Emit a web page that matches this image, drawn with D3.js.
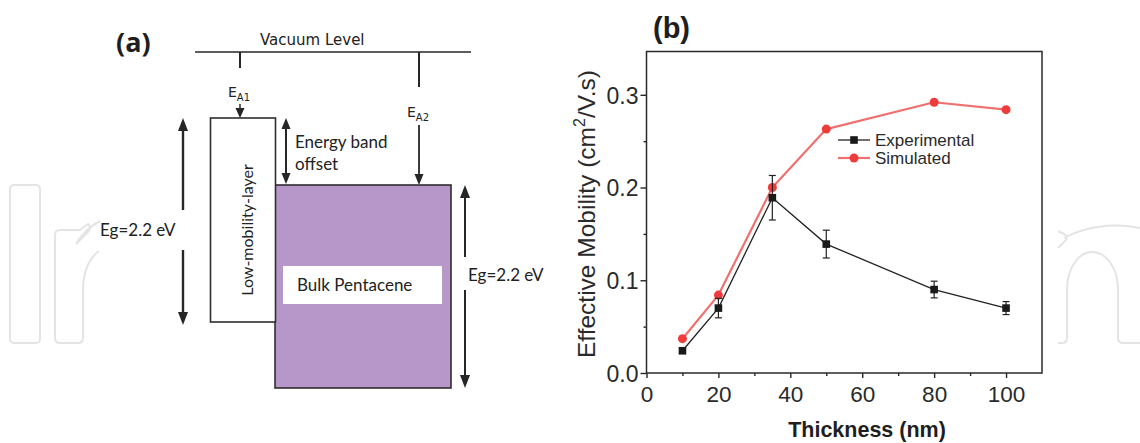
<!DOCTYPE html>
<html>
<head>
<meta charset="utf-8">
<script src="https://cdn.jsdelivr.net/npm/d3@7"></script>
<style>
  html, body { margin: 0; padding: 0; background: #fff; }
  svg { display: block; }
</style>
</head>
<body>
<svg id="chart" width="1140" height="443"></svg>
<script>
// ---------- data (panel b) ----------
const thickness = [10, 20, 35, 50, 80, 100];
const experimental = [0.024, 0.070, 0.189, 0.139, 0.090, 0.070];
const experimentalErr = [0.003, 0.0105, 0.024, 0.015, 0.009, 0.007];
const simulated = [0.037, 0.084, 0.200, 0.263, 0.292, 0.284];
const xTicks = [0, 20, 40, 60, 80, 100];
const xMinorTicks = [10, 30, 50, 70, 90];
const yTicks = [0.0, 0.1, 0.2, 0.3];
const yMinorTicks = [0.05, 0.15, 0.25];
const seriesNames = ["Experimental", "Simulated"];

const svg = d3.select("#chart");
const INK = "#262626";

// ---------- faint watermark ----------
const wm = svg.append("g").attr("fill", "none").attr("stroke", "#e4e4e4").attr("stroke-width", 2);
wm.append("rect").attr("x", 10).attr("y", 185).attr("width", 30).attr("height", 158).attr("rx", 4);
wm.append("path").attr("d", "M83,288 L83,338 Q83,343 78,343 L60,343 Q55,343 55,338 L55,235 Q55,230 60,230 L80,230 L88,224 Q92,228 88,232 L76,244 Q86,228 100,221");
wm.append("path").attr("d", "M83,288 Q84,262 99,251");
wm.append("path").attr("d", "M1058,343 L1062,343 Q1067,343 1067,338 L1067,290 C1067,266 1080,252 1092,252 C1105,252 1118,266 1118,290 L1118,338 Q1118,343 1123,343 L1140,343");
wm.append("path").attr("d", "M1058,248 L1066,240 Q1068,236 1064,234 L1058,231 M1064,238 C1082,228 1110,222 1140,228");

// ---------- panel (a): schematic ----------
const A = svg.append("g");
const sans2 = "Lato, 'Open Sans', sans-serif";

function head(g, x, y, dir, w, l) {
  g.append("path")
    .attr("d", `M${x},${y} L${x - w / 2},${y - dir * l} L${x + w / 2},${y - dir * l} Z`)
    .attr("fill", INK);
}
function vline(g, x, y1, y2, w) {
  g.append("line").attr("x1", x).attr("x2", x).attr("y1", y1).attr("y2", y2)
    .attr("stroke", INK).attr("stroke-width", w || 2);
}

A.append("text").attr("x", 116).attr("y", 52).text("(a)")
  .attr("font-family", "'Open Sans', sans-serif").attr("font-weight", 700)
  .attr("font-size", 27).attr("fill", "#1e1e1e");

// vacuum level
A.append("line").attr("x1", 195).attr("x2", 471).attr("y1", 52).attr("y2", 52)
  .attr("stroke", INK).attr("stroke-width", 1.6);
A.append("text").attr("x", 260).attr("y", 45).text("Vacuum Level")
  .attr("font-family", "'DejaVu Sans', sans-serif").attr("font-size", 15).attr("fill", "#222");

// E_A1
vline(A, 240, 52, 68, 2);
const ea1 = A.append("text").attr("x", 228).attr("y", 97)
  .attr("font-family", "'DejaVu Sans', sans-serif").attr("font-size", 14).attr("fill", "#222");
ea1.append("tspan").text("E");
ea1.append("tspan").attr("font-size", 10).attr("dy", 4).text("A1");
vline(A, 240, 104, 112, 1.5);
head(A, 240, 118, 1, 9, 10);

// E_A2
vline(A, 419, 52, 87, 2);
const ea2 = A.append("text").attr("x", 407).attr("y", 117)
  .attr("font-family", "'DejaVu Sans', sans-serif").attr("font-size", 14).attr("fill", "#222");
ea2.append("tspan").text("E");
ea2.append("tspan").attr("font-size", 10).attr("dy", 4).text("A2");
vline(A, 419, 125, 178, 1.8);
head(A, 419, 185, 1, 9, 11);

// bulk pentacene box
A.append("rect").attr("x", 275).attr("y", 185).attr("width", 176).attr("height", 203)
  .attr("fill", "#b796c9").attr("stroke", "#2e2e2e").attr("stroke-width", 1.6);
A.append("rect").attr("x", 283).attr("y", 266).attr("width", 159).attr("height", 38).attr("fill", "#fff");
A.append("text").attr("x", 297).attr("y", 291).text("Bulk Pentacene")
  .attr("font-family", sans2).attr("font-size", 17).attr("fill", "#222");

// low-mobility layer
A.append("rect").attr("x", 210.5).attr("y", 118).attr("width", 65).attr("height", 204)
  .attr("fill", "#fff").attr("stroke", "#2e2e2e").attr("stroke-width", 1.6);
A.append("text").attr("transform", "translate(253,230) rotate(-90)")
  .attr("text-anchor", "middle").text("Low-mobility-layer")
  .attr("font-family", sans2).attr("font-size", 16).attr("fill", "#222");

// left Eg arrow
vline(A, 183, 128, 210, 2.4);
vline(A, 183, 250, 314, 2.4);
head(A, 183, 118, -1, 10, 13);
head(A, 183, 325, 1, 10, 13);
A.append("text").attr("x", 100).attr("y", 236).text("Eg=2.2 eV")
  .attr("font-family", sans2).attr("font-size", 17).attr("fill", "#222");

// energy band offset arrow
vline(A, 286, 126, 176, 2);
head(A, 286, 118, -1, 9, 11);
head(A, 286, 184, 1, 9, 11);
A.append("text").attr("x", 295).attr("y", 148).text("Energy band")
  .attr("font-family", sans2).attr("font-size", 17).attr("fill", "#222");
A.append("text").attr("x", 295).attr("y", 170).text("offset")
  .attr("font-family", sans2).attr("font-size", 17).attr("fill", "#222");

// right Eg arrow
vline(A, 465, 195, 257, 2);
vline(A, 465, 290, 377, 2);
head(A, 465, 185, -1, 10, 13);
head(A, 465, 388, 1, 10, 13);
A.append("text").attr("x", 468).attr("y", 281).text("Eg=2.2 eV")
  .attr("font-family", sans2).attr("font-size", 17).attr("fill", "#222");

// ---------- panel (b): chart ----------
const L = 646.5, R = 1042, T = 51.5, B = 373;
const x = d3.scaleLinear().domain([0, 110]).range([L, R]);
const y = d3.scaleLinear().domain([0, 0.3467]).range([B, T]);
const font = "'Liberation Sans', Arial, sans-serif";
const P = svg.append("g");

P.append("rect").attr("x", L).attr("y", T).attr("width", R - L).attr("height", B - T)
  .attr("fill", "#fff");

P.append("text").attr("x", 653).attr("y", 38).text("(b)")
  .attr("font-family", font).attr("font-weight", 700).attr("font-size", 29).attr("fill", "#1e1e1e");

// axes
const xAxis = P.append("g").attr("transform", `translate(0,${B})`)
  .call(d3.axisBottom(x).tickValues(xTicks).tickSize(5).tickFormat(d3.format("d")));
const xMinor = P.append("g").attr("transform", `translate(0,${B})`)
  .call(d3.axisBottom(x).tickValues(xMinorTicks).tickSize(3).tickFormat(""));
const yAxis = P.append("g").attr("transform", `translate(${L},0)`)
  .call(d3.axisLeft(y).tickValues(yTicks).tickSize(6).tickFormat(d3.format(".1f")));
const yMinor = P.append("g").attr("transform", `translate(${L},0)`)
  .call(d3.axisLeft(y).tickValues(yMinorTicks).tickSize(3).tickFormat(""));

[xAxis, xMinor, yAxis, yMinor].forEach(g => {
  g.select(".domain").remove();
  g.selectAll(".tick line").attr("stroke", INK).attr("stroke-width", 1.4);
  g.selectAll("text").attr("font-family", font).attr("fill", "#2a2a2a");
});
xAxis.selectAll("text").attr("font-size", 22.5).attr("dy", null).attr("y", 29);
yAxis.selectAll("text").attr("font-size", 23).attr("dy", "0.36em").attr("x", -8);

// frame
P.append("rect").attr("x", L).attr("y", T).attr("width", R - L).attr("height", B - T)
  .attr("fill", "none").attr("stroke", "#2a2a2a").attr("stroke-width", 1.5);

// axis titles
P.append("text").attr("x", 867).attr("y", 436.5)
  .attr("text-anchor", "middle").text("Thickness (nm)")
  .attr("font-family", font).attr("font-weight", 700).attr("font-size", 21.5).attr("fill", "#1e1e1e");
const yl = P.append("text").attr("transform", "translate(595,214) rotate(-90)")
  .attr("text-anchor", "middle")
  .attr("font-family", font).attr("font-size", 24.5).attr("fill", "#2a2a2a");
yl.append("tspan").text("Effective Mobility (cm");
yl.append("tspan").attr("font-size", 16).attr("dy", -10).text("2");
yl.append("tspan").attr("dy", 10).text("/V.s)");

// series
const simData = thickness.map((t, i) => ({ t, v: simulated[i] }));
const expData = thickness.map((t, i) => ({ t, v: experimental[i], e: experimentalErr[i] }));
const line = d3.line().x(d => x(d.t)).y(d => y(d.v));

P.append("path").datum(simData).attr("d", line).attr("fill", "none")
  .attr("stroke", "#f07070").attr("stroke-width", 2.2).attr("stroke-linejoin", "round");
P.selectAll(".sim").data(simData).join("circle").attr("class", "sim")
  .attr("cx", d => x(d.t)).attr("cy", d => y(d.v)).attr("r", 4.5).attr("fill", "#ee3c3c");

P.append("path").datum(expData).attr("d", line).attr("fill", "none")
  .attr("stroke", "#222").attr("stroke-width", 1.3);
const eb = P.selectAll(".eb").data(expData).join("g").attr("class", "eb")
  .attr("stroke", "#222").attr("stroke-width", 1.2);
eb.append("line").attr("x1", d => x(d.t)).attr("x2", d => x(d.t))
  .attr("y1", d => y(d.v - d.e)).attr("y2", d => y(d.v + d.e));
eb.append("line").attr("x1", d => x(d.t) - 3.5).attr("x2", d => x(d.t) + 3.5)
  .attr("y1", d => y(d.v + d.e)).attr("y2", d => y(d.v + d.e));
eb.append("line").attr("x1", d => x(d.t) - 3.5).attr("x2", d => x(d.t) + 3.5)
  .attr("y1", d => y(d.v - d.e)).attr("y2", d => y(d.v - d.e));
P.selectAll(".exp").data(expData).join("rect").attr("class", "exp")
  .attr("x", d => x(d.t) - 3.8).attr("y", d => y(d.v) - 3.8)
  .attr("width", 7.6).attr("height", 7.6).attr("fill", "#1a1a1a");

// legend
const lg = P.append("g").attr("transform", "translate(838,140)");
lg.append("line").attr("x1", 0).attr("x2", 32).attr("y1", 0).attr("y2", 0).attr("stroke", "#222").attr("stroke-width", 1.3);
lg.append("rect").attr("x", 12.2).attr("y", -3.8).attr("width", 7.6).attr("height", 7.6).attr("fill", "#1a1a1a");
lg.append("line").attr("x1", 0).attr("x2", 32).attr("y1", 18).attr("y2", 18).attr("stroke", "#f07070").attr("stroke-width", 2.2);
lg.append("circle").attr("cx", 16).attr("cy", 18).attr("r", 4.5).attr("fill", "#ee3c3c");
lg.selectAll("text").data(seriesNames).join("text")
  .attr("x", 37).attr("y", (d, i) => i * 18 + 6).text(d => d)
  .attr("font-family", font).attr("font-size", 17).attr("fill", "#2a2a2a");
</script>
</body>
</html>
